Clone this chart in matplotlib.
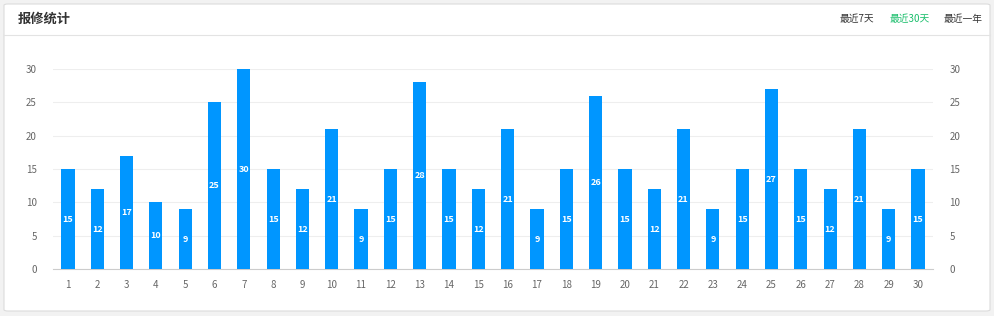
import matplotlib.pyplot as plt
from matplotlib.patches import FancyBboxPatch
from matplotlib.lines import Line2D

plt.rcParams["font.family"] = ["Noto Sans CJK SC", "DejaVu Sans"]

days = [str(d) for d in range(1, 31)]
counts = [15, 12, 17, 10, 9, 25, 30, 15, 12, 21, 9, 15, 28, 15, 12,
          21, 9, 15, 26, 15, 12, 21, 9, 15, 27, 15, 12, 21, 9, 15]
y_ticks = [0, 5, 10, 15, 20, 25, 30]
title = "报修统计"
ranges = ["最近7天", "最近30天", "最近一年"]
active_range = "最近30天"

W, H = 995, 316
fig = plt.figure(figsize=(W / 100, H / 100), dpi=100)
fig.patch.set_facecolor("#f2f2f2")

# card with soft border, kept behind the axes
card = FancyBboxPatch((4 / W, 5 / H), 986 / W, 307 / H,
                      boxstyle="round,pad=0,rounding_size=0.004",
                      transform=fig.transFigure, facecolor="white",
                      edgecolor="#dcdcdc", linewidth=0.8, zorder=-2)
fig.patches.append(card)
fig.lines.append(Line2D([4 / W, 990 / W], [1 - 35 / H, 1 - 35 / H],
                        transform=fig.transFigure, color="#e3e3e3",
                        linewidth=0.8, zorder=-1))

fig.text(18 / W, 1 - 19 / H, title, fontsize=9.5, fontweight="bold",
         color="#333333", va="center", ha="left")
range_x = [857, 910, 963]
for label, x in zip(ranges, range_x):
    fig.text(x / W, 1 - 19 / H, label, fontsize=7, va="center", ha="center",
             color="#19be6b" if label == active_range else "#333333")

ax = fig.add_axes([53.3 / W, 47 / H, 879.4 / W, 200 / H])
x = list(range(len(days)))
bars = ax.bar(x, counts, width=0.45, color="#0096ff", zorder=3)
for rect, v in zip(bars, counts):
    ax.text(rect.get_x() + rect.get_width() / 2, v / 2, str(v), ha="center",
            va="center", fontsize=6.5, fontweight="bold", color="white", zorder=4)

ax.set_xlim(-0.5, len(days) - 0.5)
ax.set_ylim(0, 30)
ax.set_yticks(y_ticks)
ax.set_xticks(x, labels=days)
ax.yaxis.grid(True, color="#eeeeee", linewidth=0.8, zorder=0)
for side in ["top", "left", "right"]:
    ax.spines[side].set_visible(False)
ax.spines["bottom"].set_color("#cccccc")
ax.tick_params(axis="x", length=0, pad=8, labelsize=7, labelcolor="#666666")
ax.tick_params(axis="y", length=0, pad=12, labelsize=7, labelcolor="#666666",
               labelright=True, labelleft=True)
ax.set_facecolor("none")

fig.savefig("out.png", dpi=100, facecolor=fig.get_facecolor())
